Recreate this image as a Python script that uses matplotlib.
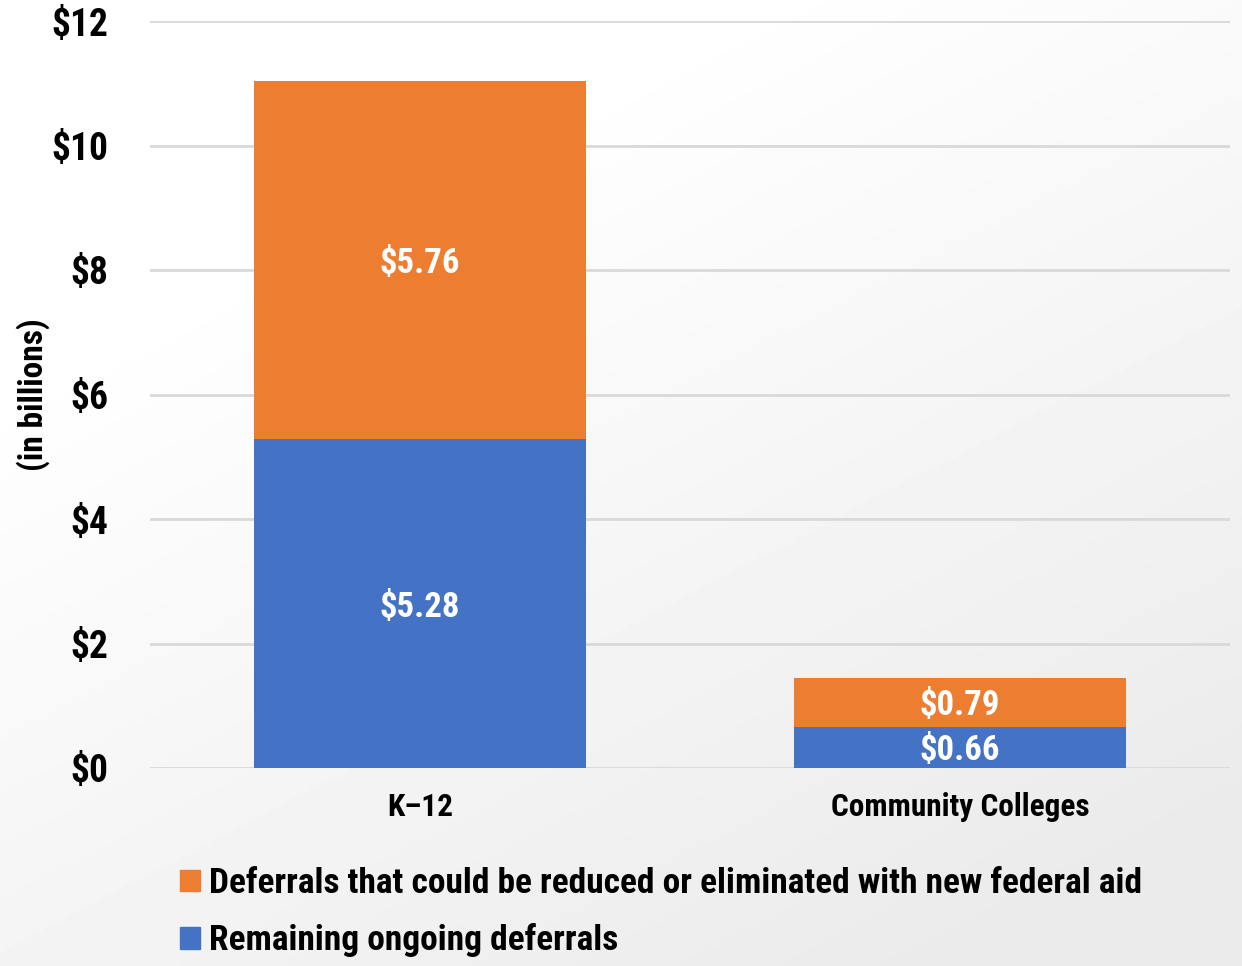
import numpy as np
import matplotlib.pyplot as plt
from matplotlib.patches import Patch

categories = ['K\u201312', 'Community Colleges']
remaining = [5.28, 0.66]
reducible = [5.76, 0.79]
series_names = ['Deferrals that could be reduced or eliminated with new federal aid',
                'Remaining ongoing deferrals']
yticks = [0, 2, 4, 6, 8, 10, 12]

ORANGE = '#ED7D31'
BLUE = '#4472C4'

plt.rcParams['font.family'] = ['Roboto Condensed', 'PT Sans Narrow', 'DejaVu Sans']
plt.rcParams['font.weight'] = 'bold'

fig = plt.figure(figsize=(12.42, 9.66), dpi=100)

# soft gradient background (white top-left -> light gray bottom-right)
bg = fig.add_axes([0, 0, 1, 1], zorder=-10)
gx, gy = np.meshgrid(np.linspace(0, 1, 200), np.linspace(0, 1, 200))
grad = np.clip((gx * 0.6 + gy * 0.9) - 0.35, 0, 1)
bg.imshow(1 - 0.08 * grad, cmap='gray', vmin=0, vmax=1, aspect='auto',
          extent=[0, 1, 0, 1], origin='upper')
bg.axis('off')

ax = fig.add_axes([150 / 1242, 1 - 768 / 966, 1080 / 1242, 747 / 966])
ax.patch.set_alpha(0)

x = np.arange(len(categories))
w = 0.616
ax.bar(x, remaining, w, color=BLUE, zorder=3)
ax.bar(x, reducible, w, bottom=remaining, color=ORANGE, zorder=3)

for i in range(len(categories)):
    ax.text(x[i], remaining[i] / 2, f'${remaining[i]:.2f}', ha='center', va='center_baseline',
            color='white', fontsize=25, fontweight='bold', zorder=4)
    ax.text(x[i], remaining[i] + reducible[i] / 2, f'${reducible[i]:.2f}', ha='center',
            va='center_baseline', color='white', fontsize=25, fontweight='bold', zorder=4)

ax.set_xlim(-0.5, 1.5)
ax.set_ylim(0, 12)
ax.set_yticks(yticks)
ax.set_yticklabels([f'${v}' for v in yticks], fontsize=27, fontweight='bold')
ax.set_xticks(x)
ax.set_xticklabels(categories, fontsize=22.5, fontweight='bold')
ax.tick_params(axis='both', length=0)
ax.tick_params(axis='y', pad=30)
ax.tick_params(axis='x', pad=17)
ax.grid(axis='y', color='#d9d9d9', linewidth=2, zorder=0)
for s in ax.spines.values():
    s.set_visible(False)

fig.text(33 / 1242, 1 - 395 / 966, '(in billions)', rotation=90, ha='center', va='center',
         fontsize=24, fontweight='bold')

handles = [Patch(color=ORANGE), Patch(color=BLUE)]
fig.legend(handles, series_names, loc='upper left', bbox_to_anchor=(180 / 1242, 1 - 867 / 966),
           frameon=False, fontsize=25.5, handlelength=0.56, handleheight=0.56,
           handletextpad=0.25, labelspacing=0.66, borderpad=0, borderaxespad=0)

fig.savefig('out.png', dpi=100)
